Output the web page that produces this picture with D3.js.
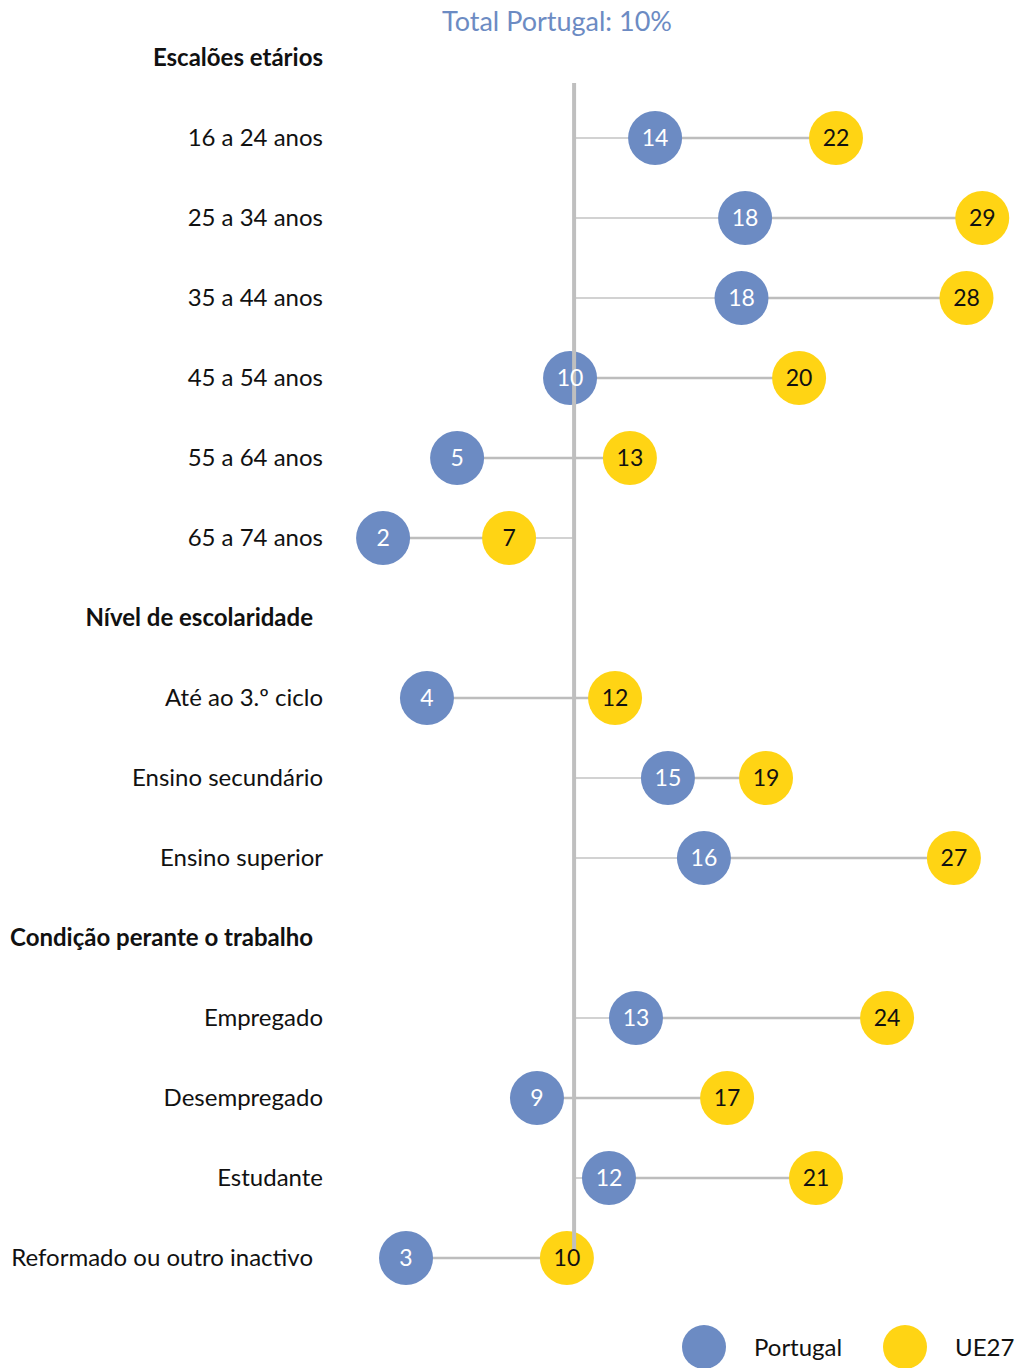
<!DOCTYPE html>
<html>
<head>
<meta charset="utf-8">
<script src="https://cdn.jsdelivr.net/npm/d3@7"></script>
<style>
  body { margin: 0; background: #fff; }
  svg { display: block; font-family: Lato, "Open Sans", sans-serif; }
</style>
</head>
<body>
<svg id="chart" width="1021" height="1368"></svg>
<script>
// rows, in display order ("h" rows are group headers)
const rowLabels = [
  "Escalões etários", "16 a 24 anos", "25 a 34 anos", "35 a 44 anos", "45 a 54 anos", "55 a 64 anos", "65 a 74 anos",
  "Nível de escolaridade", "Até ao 3.º ciclo", "Ensino secundário", "Ensino superior",
  "Condição perante o trabalho", "Empregado", "Desempregado", "Estudante", "Reformado ou outro inactivo"
];
const rowTypes = ["h", "r", "r", "r", "r", "r", "r", "h", "r", "r", "r", "h", "r", "r", "r", "r"];

// values in %, null for headers
const portugal = [null, 13.96, 17.96, 17.8, 10.18, 5.16, 1.87, null, 3.82, 14.53, 16.13, null, 13.11, 8.71, 11.91, 2.89];
const ue27 = [null, 22.0, 28.5, 27.8, 20.36, 12.84, 7.47, null, 12.18, 18.89, 27.24, null, 24.27, 17.16, 21.11, 10.04];
const totalPortugal = 10.36;
const seriesNames = ["Portugal", "UE27"];

(() => {
  const BLUE = "#6c8bc3";
  const YELLOW = "#ffd414";
  const svg = d3.select("#chart");

  const x = d3.scaleLinear().domain([0, 30]).range([341, 1016]);
  const y = d3.scalePoint().domain(d3.range(rowLabels.length)).range([58, 1258]);
  const r = 27;

  const rows = rowLabels.map((label, i) => ({
    i, label, type: rowTypes[i], pt: portugal[i], ue: ue27[i]
  }));
  const data = rows.filter(d => d.type === "r");

  // title
  svg.append("text")
    .attr("x", 557)
    .attr("y", 31)
    .attr("text-anchor", "middle")
    .attr("fill", BLUE)
    .style("font-size", "27px")
    .text(`Total Portugal: ${Math.round(totalPortugal)}%`);

  // row labels
  svg.append("g").selectAll("text")
    .data(rows)
    .join("text")
    .attr("y", d => y(d.i) + 8)
    .attr("text-anchor", "end")
    .attr("fill", "#111")
    .style("font-size", "24px")
    .style("font-weight", d => d.type === "h" ? "bold" : "normal")
    .text(d => d.label)
    .attr("x", function (d) {
      const w = this.getComputedTextLength();
      return (d.type === "h" && d.i > 0) || w > 280 ? 313 : 323;
    });

  // lollipop lines from the total line to each dot
  const lines = svg.append("g");
  data.forEach(d => {
    [d.pt, d.ue].forEach(v => {
      lines.append("line")
        .attr("x1", x(totalPortugal))
        .attr("x2", x(v))
        .attr("y1", y(d.i))
        .attr("y2", y(d.i))
        .attr("stroke", "#d2d2d2")
        .attr("stroke-width", 2);
    });
    lines.append("line")
      .attr("x1", x(d.pt))
      .attr("x2", x(d.ue))
      .attr("y1", y(d.i))
      .attr("y2", y(d.i))
      .attr("stroke", "#bdbdbd")
      .attr("stroke-width", 2.5);
  });

  const series = [
    { key: "pt", fill: BLUE, text: "#fff" },
    { key: "ue", fill: YELLOW, text: "#111" }
  ];

  const drawDots = s => {
    svg.append("g").selectAll("circle")
      .data(data)
      .join("circle")
      .attr("cx", d => x(d[s.key]))
      .attr("cy", d => y(d.i))
      .attr("r", r)
      .attr("fill", s.fill);
  };
  const drawValues = s => {
    svg.append("g").selectAll("text")
      .data(data)
      .join("text")
      .attr("x", d => x(d[s.key]))
      .attr("y", d => y(d.i) + 8)
      .attr("text-anchor", "middle")
      .attr("fill", s.text)
      .style("font-size", "23px")
      .text(d => Math.round(d[s.key]));
  };

  drawDots(series[0]);
  drawDots(series[1]);

  // total Portugal reference line
  svg.append("line")
    .attr("x1", x(totalPortugal))
    .attr("x2", x(totalPortugal))
    .attr("y1", 83)
    .attr("y2", 1250)
    .attr("stroke", "#bfbfbf")
    .attr("stroke-width", 4);

  drawValues(series[0]);
  drawValues(series[1]);

  // legend
  const legendX = [704, 905];
  const legend = svg.append("g").selectAll("g")
    .data(series)
    .join("g")
    .attr("transform", (d, i) => `translate(${legendX[i]}, 1347)`);
  legend.append("circle")
    .attr("r", 22)
    .attr("fill", d => d.fill);
  legend.append("text")
    .attr("x", 50)
    .attr("y", 9)
    .attr("fill", "#111")
    .style("font-size", "24px")
    .text((d, i) => seriesNames[i]);
})();
</script>
</body>
</html>
